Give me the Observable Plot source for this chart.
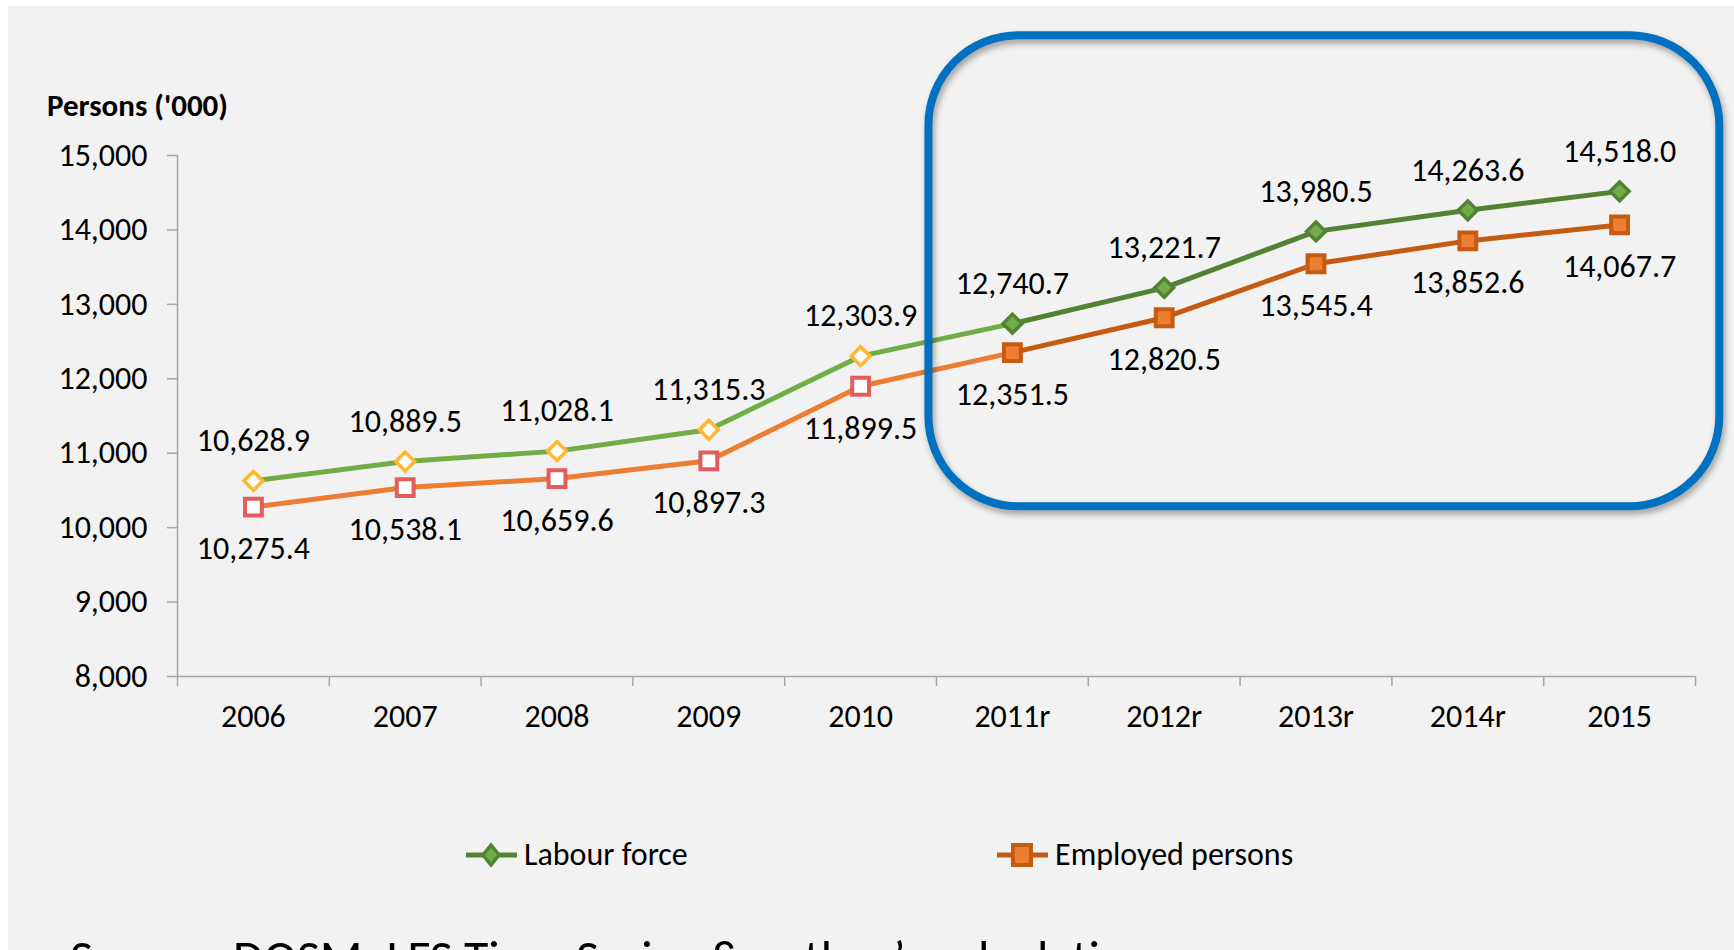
<!DOCTYPE html>
<html>
<head>
<meta charset="utf-8">
<script src="https://cdn.jsdelivr.net/npm/d3@7"></script>
<script src="https://cdn.jsdelivr.net/npm/@observablehq/plot@0.6"></script>
<style>
  html, body { margin: 0; padding: 0; background: #fff; }
  #page { position: relative; width: 1734px; height: 950px; overflow: hidden; background: #fff;
          font-family: Carlito, Lato, sans-serif; color: #000; }
  #panel { position: absolute; left: 8px; top: 6px; right: 0; bottom: 0; background: #f2f2f2; }
  #chart { position: absolute; left: 0; top: 0; }
  #ytitle { position: absolute; left: 47px; top: 90px; font-weight: bold; font-size: 31px; line-height: 31px; white-space: nowrap; }
  .legend-item { position: absolute; top: 835px; display: flex; align-items: center; font-size: 32px; line-height: 40px; white-space: nowrap; }
  .legend-item svg { margin-right: 7px; }
  #source { position: absolute; left: 70px; top: 933px; font-size: 50px; line-height: 50px; white-space: nowrap; }
</style>
</head>
<body>
<div id="page">
  <div id="panel"></div>
  <div id="chart"></div>
  <div id="ytitle">Persons ('000)</div>
  <div id="legend"></div>
  <div id="source">Source: DOSM, LFS Time Series &amp; author’s calculations</div>
</div>
<script>
// ---- Data ----
const years = ["2006", "2007", "2008", "2009", "2010", "2011r", "2012r", "2013r", "2014r", "2015"];
const labourForce = [10628.9, 10889.5, 11028.1, 11315.3, 12303.9, 12740.7, 13221.7, 13980.5, 14263.6, 14518.0];
const employedPersons = [10275.4, 10538.1, 10659.6, 10897.3, 11899.5, 12351.5, 12820.5, 13545.4, 13852.6, 14067.7];
const yTicks = [8000, 9000, 10000, 11000, 12000, 13000, 14000, 15000];
const seriesNames = ["Labour force", "Employed persons"];
const highlightStart = 5; // "2011r": highlighted period starts here
// highlighted period annotation, in data units (category index, persons '000)
const highlightBox = [{x1: 4.95, x2: 10.16, y1: 10280, y2: 16610}];

// ---- Build table ----
const rows = years.map((year, i) => ({year, i, pos: i + 0.5, labour: labourForce[i], employed: employedPersons[i]}));
const earlyLine = rows.filter(d => d.i <= highlightStart);
const lateRows = rows.filter(d => d.i >= highlightStart);
const earlyPts = rows.filter(d => d.i < highlightStart);
const fmt = d3.format(",.1f");

const C = {
  lfLight: "#70ad47", lfDark: "#548235", lfMarkEarly: "#ffb730",
  epLight: "#ed7d31", epDark: "#c55a11", epMarkEarly: "#e35d5d",
  axis: "#a6a6a6", box: "#0070c0"
};

const chart = Plot.plot({
  width: 1734, height: 750,
  marginTop: 155, marginBottom: 74, marginLeft: 177, marginRight: 39,
  style: {background: "transparent", fontFamily: "Carlito, Lato, sans-serif", fontSize: "32px", color: "#000", overflow: "visible"},
  x: {type: "linear", domain: [0, years.length], axis: null},
  y: {domain: [8000, 15000], axis: null},
  marks: [
    Plot.ruleX([0], {y1: 8000, y2: 15000, stroke: C.axis, strokeWidth: 1.5}),
    Plot.ruleY([8000], {x1: 0, x2: years.length, stroke: C.axis, strokeWidth: 1.5}),
    Plot.axisY({ticks: yTicks, tickSize: 10, tickPadding: 20, tickFormat: d3.format(","), stroke: C.axis, strokeWidth: 1.5, label: null}),
    Plot.axisX({ticks: d3.range(years.length + 1), tickSize: 10, tickFormat: () => "", stroke: C.axis, strokeWidth: 1.5, label: null}),
    Plot.axisX({ticks: rows.map(d => d.pos), tickSize: 0, tickPadding: 28, tickFormat: p => years[Math.floor(p)], label: null}),

    // Labour force
    Plot.line(earlyLine, {x: "pos", y: "labour", stroke: C.lfLight, strokeWidth: 5}),
    Plot.line(lateRows, {x: "pos", y: "labour", stroke: C.lfDark, strokeWidth: 5}),
    Plot.dot(earlyPts, {x: "pos", y: "labour", symbol: "diamond2", r: 8.5, fill: "#fff", stroke: C.lfMarkEarly, strokeWidth: 3.5}),
    Plot.dot(lateRows, {x: "pos", y: "labour", symbol: "diamond2", r: 8.5, fill: C.lfLight, stroke: C.lfDark, strokeWidth: 3.5}),

    // Employed persons
    Plot.line(earlyLine, {x: "pos", y: "employed", stroke: C.epLight, strokeWidth: 5}),
    Plot.line(lateRows, {x: "pos", y: "employed", stroke: C.epDark, strokeWidth: 5}),
    Plot.dot(earlyPts, {x: "pos", y: "employed", symbol: "square", r: 9.5, fill: "#fff", stroke: C.epMarkEarly, strokeWidth: 4}),
    Plot.dot(lateRows, {x: "pos", y: "employed", symbol: "square", r: 9.5, fill: C.epLight, stroke: C.epDark, strokeWidth: 4}),

    // Data labels
    Plot.text(rows, {x: "pos", y: "labour", text: d => fmt(d.labour), dy: -40}),
    Plot.text(rows, {x: "pos", y: "employed", text: d => fmt(d.employed), dy: 42}),

    // Highlight box
    Plot.rect(highlightBox, {x1: "x1", x2: "x2", y1: "y1", y2: "y2", rx: 90, fill: "none", stroke: C.box, strokeWidth: 8, ariaDescription: "highlight-box"})
  ]
});
d3.select(chart).selectAll('[aria-description="highlight-box"]').style("filter", "drop-shadow(2px 4px 3px rgba(0,0,0,0.35))");
document.getElementById("chart").appendChild(chart);

// ---- Legend ----
const legendSpec = [
  {name: seriesNames[0], line: C.lfDark, fill: C.lfLight, stroke: C.lfDark, shape: "diamond", left: 466},
  {name: seriesNames[1], line: C.epDark, fill: C.epLight, stroke: C.epDark, shape: "square", left: 997}
];
const legend = document.getElementById("legend");
for (const s of legendSpec) {
  const item = document.createElement("div");
  item.className = "legend-item";
  item.style.left = s.left + "px";
  const shape = s.shape === "diamond"
    ? `<path d="M25,5 L33,15 L25,25 L17,15 Z" fill="${s.fill}" stroke="${s.stroke}" stroke-width="3.5"/>`
    : `<rect x="16" y="5" width="18" height="20" fill="${s.fill}" stroke="${s.stroke}" stroke-width="4"/>`;
  item.innerHTML = `<svg width="51" height="30"><line x1="0" x2="51" y1="15" y2="15" stroke="${s.line}" stroke-width="5"/>${shape}</svg><span>${s.name}</span>`;
  legend.appendChild(item);
}
</script>
</body>
</html>
